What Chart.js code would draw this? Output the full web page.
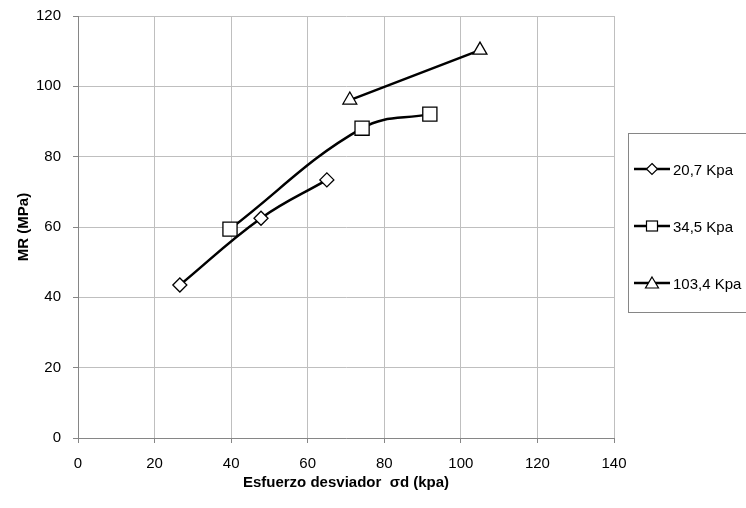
<!DOCTYPE html>
<html>
<head>
<meta charset="utf-8">
<script src="https://cdn.jsdelivr.net/npm/chart.js@4"></script>
<style>
  html, body { margin: 0; padding: 0; background: #fff; }
  #wrap { position: relative; width: 746px; height: 508px; }
  #legend {
    position: absolute; left: 628px; top: 133px; width: 130px; height: 180px;
    border: 1px solid #868686; box-sizing: border-box;
    font-family: "Liberation Sans", sans-serif; font-size: 15px; color: #000;
  }
  .item { position: absolute; left: 5px; height: 16px; display: flex; align-items: center; }
  .item svg { margin-right: 3px; }
</style>
</head>
<body>
<div id="wrap">
  <canvas id="chart" width="746" height="508"></canvas>
  <div id="legend"></div>
</div>
<script>
// Serie names (confining pressure)
const seriesNames = ["20,7 Kpa", "34,5 Kpa", "103,4 Kpa"];
// deviator stress (x) and MR (y) for each serie
const x207 = [26.6, 47.8, 65.0];
const y207 = [43.5, 62.5, 73.4];
const x345 = [39.7, 74.2, 91.9];
const y345 = [59.4, 88.1, 92.1];
const x1034 = [71.0, 105.0];
const y1034 = [96.1, 110.3];
const markers = ["rectRot", "rect", "triangle"];
const markerSizes = [7, 10, 8];

const xTicks = [0, 20, 40, 60, 80, 100, 120, 140];
const yTicks = [0, 20, 40, 60, 80, 100, 120];

function toPoints(xs, ys) {
  return xs.map((x, i) => ({ x: x, y: ys[i] }));
}

const allX = [x207, x345, x1034];
const allY = [y207, y345, y1034];

let datasets = seriesNames.map((name, i) => ({
  label: name,
  data: toPoints(allX[i], allY[i]),
  showLine: true,
  borderColor: "#000",
  borderWidth: 2.5,
  tension: 0.4,
  pointStyle: markers[i],
  pointRadius: markerSizes[i],
  pointHoverRadius: markerSizes[i],
  pointBackgroundColor: "#fff",
  pointBorderColor: "#000",
  pointBorderWidth: 1.3,
}));

const FONT = "'Liberation Sans', sans-serif";

new Chart(document.getElementById("chart"), {
  type: "scatter",
  data: { datasets: datasets },
  options: {
    responsive: false,
    animation: false,
    layout: { padding: { top: 16, right: 132, left: 0, bottom: 0 } },
    plugins: { legend: { display: false }, tooltip: { enabled: false } },
    scales: {
      x: {
        type: "linear",
        min: 0,
        max: 140,
        afterBuildTicks: (s) => { s.ticks = xTicks.map((v) => ({ value: v })); },
        afterFit: (s) => { s.height = 70; },
        grid: { color: "#bfbfbf", tickColor: "#868686", tickLength: 5, lineWidth: 1 },
        border: { color: "#868686", width: 1 },
        ticks: { color: "#000", font: { family: FONT, size: 15 }, padding: 12 },
        title: {
          display: true,
          text: "Esfuerzo desviador  σd (kpa)",
          color: "#000",
          font: { family: FONT, size: 15, weight: "bold" },
          padding: { top: 16, bottom: 16 },
        },
      },
      y: {
        type: "linear",
        min: 0,
        max: 120,
        afterBuildTicks: (s) => { s.ticks = yTicks.map((v) => ({ value: v })); },
        afterFit: (s) => { s.width = 78; s.paddingTop = 0; s.paddingBottom = 0; },
        grid: { color: "#bfbfbf", tickColor: "#868686", tickLength: 5, lineWidth: 1 },
        border: { color: "#868686", width: 1 },
        ticks: { color: "#000", font: { family: FONT, size: 15 }, padding: 12 },
        title: {
          display: true,
          text: "MR (MPa)",
          color: "#000",
          font: { family: FONT, size: 15, weight: "bold" },
          padding: { top: 15, bottom: 15 },
        },
      },
    },
  },
});

// legend: line with marker, like the spreadsheet one
function markerSvg(kind) {
  let shape = "";
  if (kind === "rectRot") shape = '<polygon points="18,2.5 23.5,8 18,13.5 12.5,8" fill="#fff" stroke="#000" stroke-width="1.2"/>';
  if (kind === "rect") shape = '<rect x="12.5" y="3" width="11" height="10" fill="#fff" stroke="#000" stroke-width="1.2"/>';
  if (kind === "triangle") shape = '<polygon points="18,2 24.5,13 11.5,13" fill="#fff" stroke="#000" stroke-width="1.2"/>';
  return '<svg width="36" height="16"><line x1="0" y1="8" x2="36" y2="8" stroke="#000" stroke-width="2.5"/>' + shape + "</svg>";
}

let legendEl = document.getElementById("legend");
const legendTops = [27, 84, 141];
seriesNames.forEach((name, i) => {
  let item = document.createElement("div");
  item.className = "item";
  item.style.top = legendTops[i] + "px";
  item.innerHTML = markerSvg(markers[i]) + "<span>" + name + "</span>";
  legendEl.appendChild(item);
});
</script>
</body>
</html>
